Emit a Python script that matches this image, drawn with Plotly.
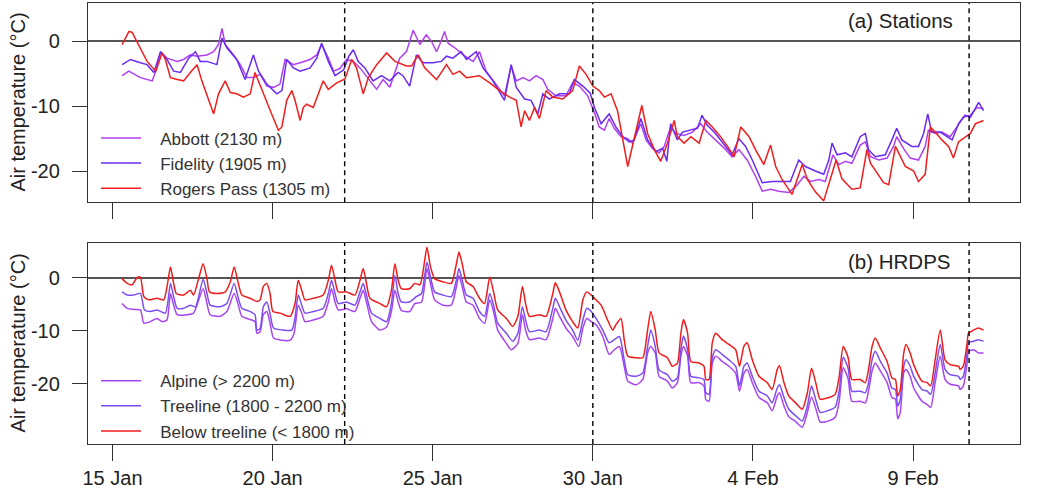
import pandas as pd
import plotly.graph_objects as go

# ---------------- data (day offset from 15 Jan 00:00, air temperature °C) -------------
BASE = "2019-01-15 00:00"

abbott_day = [0.30,0.51,0.87,1.24,1.39,1.50,1.70,2.02,2.22,2.43,2.64,2.95,3.16,3.31,3.42,3.52,3.78,3.99,4.20,4.40,4.61,4.82,5.03,5.23,5.39,5.65,5.86,6.17,6.38,6.53,6.74,6.90,7.10,7.31,7.52,7.73,8.04,8.25,8.45,8.66,8.97,9.18,9.39,9.60,9.80,9.96,10.12,10.22,10.37,10.48,10.69,10.95,11.26,11.46,11.67,11.98,12.24,12.45,12.61,12.82,13.02,13.23,13.44,13.59,13.85,14.16,14.37,14.58,14.84,15.05,15.20,15.36,15.51,15.67,15.88,16.09,16.24,16.50,16.66,16.86,17.07,17.23,17.43,17.59,17.85,18.11,18.37,18.57,18.83,19.15,19.35,19.56,19.82,20.08,20.29,20.55,20.81,21.12,21.39,21.59,21.80,22.06,22.26,22.50,22.68,22.89,23.09,23.35,23.51,23.67,23.93,24.19,24.39,24.49,24.70,24.91,25.17,25.38,25.48,25.69,25.90,26.16,26.37,26.57,26.79,26.99,27.20]
abbott_temp = [-5.3,-4.6,-5.6,-6.1,-4.1,-1.6,-2.6,-3.1,-2.8,-2.1,-2.3,-2.1,-1.6,-0.5,2.0,-0.5,-2.1,-3.6,-5.6,-5.6,-5.1,-6.9,-7.1,-6.6,-2.8,-3.6,-3.3,-2.8,-2.1,-0.5,-2.6,-4.6,-4.2,-2.8,-3.1,-4.1,-6.1,-7.4,-5.9,-7.1,-2.6,-1.6,1.7,-0.5,1.0,0.0,-1.6,-0.5,1.5,-0.3,-1.0,-2.1,-3.1,-1.6,-4.6,-6.6,-8.4,-3.8,-6.1,-5.6,-6.1,-5.3,-5.9,-7.4,-8.4,-8.4,-6.4,-6.9,-8.4,-11.0,-13.2,-13.7,-11.9,-13.4,-14.7,-15.0,-15.7,-12.7,-15.2,-16.5,-17.2,-16.2,-13.2,-14.2,-14.5,-14.0,-12.7,-14.0,-15.2,-16.7,-17.8,-16.7,-18.3,-20.8,-23.1,-22.8,-23.1,-23.3,-22.1,-20.8,-21.6,-21.3,-21.6,-17.5,-19.0,-18.5,-18.8,-16.0,-15.5,-17.8,-18.3,-18.0,-16.2,-14.7,-16.5,-18.0,-18.3,-16.2,-13.7,-14.2,-14.0,-14.7,-13.2,-11.7,-11.4,-10.2,-10.4]

fidelity_day = [0.30,0.56,0.87,1.08,1.29,1.50,1.70,1.91,2.12,2.38,2.59,2.74,2.95,3.26,3.42,3.57,3.88,4.14,4.40,4.56,4.82,5.13,5.29,5.44,5.65,5.86,6.17,6.38,6.53,6.74,6.95,7.22,7.38,7.52,7.67,7.88,8.14,8.40,8.66,8.92,9.07,9.28,9.49,9.70,10.01,10.27,10.43,10.63,10.89,11.05,11.36,11.57,11.88,12.24,12.45,12.61,12.87,13.07,13.28,13.44,13.64,13.96,14.27,14.42,14.69,14.92,15.05,15.15,15.26,15.51,15.72,15.93,16.14,16.29,16.50,16.71,16.97,17.18,17.31,17.43,17.64,17.80,18.06,18.27,18.41,18.57,18.83,19.15,19.35,19.56,19.77,19.98,20.29,20.60,20.91,21.17,21.43,21.64,21.95,22.21,22.37,22.47,22.63,22.89,23.09,23.35,23.51,23.61,23.82,24.13,24.34,24.49,24.65,24.96,25.17,25.33,25.46,25.58,25.85,26.06,26.22,26.42,26.63,26.79,26.95,27.05,27.20]
fidelity_temp = [-3.6,-2.8,-3.3,-3.6,-4.8,-1.6,-2.8,-4.6,-4.8,-2.6,-1.6,-3.1,-3.1,-3.6,0.5,-1.0,-2.8,-5.9,-2.1,-4.6,-6.6,-8.1,-7.6,-2.8,-4.1,-4.6,-4.1,-2.6,-0.3,-3.1,-5.3,-4.4,-2.3,-1.3,-3.1,-4.1,-6.1,-5.3,-6.1,-4.8,-5.3,-6.9,-2.1,-3.3,-3.3,-3.1,-2.3,-2.6,-1.6,-2.8,-1.6,-4.1,-6.1,-9.1,-3.6,-7.1,-8.9,-9.1,-11.2,-8.1,-8.9,-8.1,-8.1,-5.9,-6.9,-8.0,-10.2,-11.5,-12.7,-11.2,-13.2,-14.7,-15.5,-15.2,-11.9,-15.2,-17.0,-16.5,-18.5,-12.7,-15.2,-14.0,-13.7,-13.4,-11.4,-12.9,-14.2,-16.2,-17.5,-15.0,-16.2,-18.3,-21.8,-21.6,-21.6,-21.6,-18.3,-19.3,-20.0,-20.5,-18.3,-15.7,-17.5,-17.2,-17.8,-14.7,-14.2,-16.7,-17.8,-17.5,-15.2,-13.4,-15.2,-16.2,-16.2,-14.2,-11.2,-14.0,-14.0,-14.7,-15.2,-12.7,-11.4,-11.7,-10.4,-9.4,-10.7]

rogers_day = [0.30,0.51,0.61,0.87,1.08,1.35,1.55,1.65,1.81,2.02,2.22,2.43,2.64,2.79,3.00,3.16,3.31,3.52,3.68,3.88,4.09,4.30,4.45,4.71,4.97,5.18,5.29,5.44,5.60,5.70,5.86,5.96,6.06,6.27,6.48,6.58,6.74,7.00,7.26,7.47,7.62,7.83,7.99,8.25,8.56,8.82,9.18,9.34,9.55,9.75,10.12,10.43,10.63,10.84,11.05,11.46,11.78,12.09,12.40,12.61,12.76,12.87,13.02,13.18,13.33,13.54,13.75,14.06,14.37,14.58,14.79,15.00,15.20,15.36,15.57,15.77,16.09,16.29,16.53,16.71,16.92,17.12,17.33,17.54,17.64,17.85,18.06,18.32,18.53,18.73,18.99,19.25,19.41,19.62,19.88,20.08,20.34,20.55,20.71,20.91,21.22,21.54,21.70,21.95,22.21,22.40,22.60,22.78,23.09,23.35,23.56,23.67,23.87,24.08,24.24,24.45,24.55,24.76,25.02,25.17,25.38,25.54,25.69,25.90,26.11,26.26,26.42,26.63,26.79,26.95,27.11,27.20]
rogers_temp = [-0.5,1.5,1.4,-1.0,-3.1,-4.6,-1.8,-2.8,-5.6,-5.9,-6.1,-4.8,-3.6,-6.1,-9.1,-11.2,-8.1,-6.1,-7.9,-8.1,-8.6,-8.1,-4.8,-8.1,-11.2,-13.7,-13.2,-9.1,-7.6,-9.1,-12.2,-10.2,-9.7,-10.2,-7.6,-6.1,-7.4,-6.4,-5.8,-2.8,-4.1,-8.1,-5.6,-3.6,-1.8,-3.1,-3.8,-3.8,-2.1,-4.1,-5.9,-3.6,-5.1,-4.6,-5.6,-5.3,-6.4,-7.6,-8.6,-9.1,-13.2,-10.7,-12.2,-10.2,-11.9,-7.6,-8.6,-8.9,-7.6,-3.8,-5.1,-6.9,-7.6,-8.6,-8.1,-10.7,-19.3,-15.2,-9.9,-14.2,-16.7,-18.5,-15.7,-12.2,-14.7,-15.7,-14.7,-15.7,-12.2,-13.2,-14.7,-16.5,-17.8,-13.2,-14.7,-16.7,-19.0,-16.0,-19.3,-21.3,-23.6,-19.0,-21.3,-23.2,-24.6,-21.5,-18.3,-21.2,-22.8,-22.6,-16.7,-18.8,-20.3,-21.8,-22.1,-16.2,-17.2,-19.3,-20.0,-21.6,-20.5,-13.2,-14.0,-15.2,-16.2,-18.0,-15.5,-14.7,-14.2,-12.7,-12.4,-12.2]

below_day = [0.30,0.46,0.61,0.77,0.87,0.98,1.13,1.39,1.60,1.72,1.81,1.91,1.99,2.22,2.43,2.53,2.69,2.83,2.95,3.03,3.26,3.52,3.68,3.80,3.93,4.04,4.30,4.51,4.61,4.71,4.82,4.92,5.01,5.23,5.55,5.70,5.80,5.91,6.01,6.27,6.58,6.74,6.84,6.95,7.05,7.31,7.57,7.73,7.83,7.93,8.04,8.35,8.56,8.71,8.82,8.92,9.02,9.28,9.44,9.60,9.72,9.82,9.93,10.06,10.32,10.58,10.74,10.82,10.92,11.05,11.26,11.46,11.62,11.78,11.90,12.03,12.30,12.50,12.66,12.80,12.90,13.02,13.33,13.54,13.75,13.83,13.96,14.16,14.37,14.53,14.69,14.81,14.95,15.05,15.26,15.46,15.62,15.72,15.88,15.98,16.09,16.35,16.56,16.71,16.81,16.95,17.07,17.33,17.48,17.64,17.75,17.83,17.96,18.06,18.32,18.47,18.53,18.63,18.73,18.84,19.04,19.25,19.46,19.58,19.72,19.82,19.98,20.19,20.45,20.60,20.76,20.83,20.97,21.12,21.33,21.54,21.70,21.83,21.97,22.10,22.37,22.57,22.69,22.82,22.97,23.09,23.35,23.51,23.61,23.72,23.82,23.98,24.19,24.34,24.45,24.52,24.60,24.71,24.78,24.91,25.02,25.28,25.44,25.55,25.69,25.85,26.00,26.16,26.42,26.47,26.57,26.69,26.73,26.89,27.04,27.20]
below_temp = [-0.2,-1.1,-1.4,0.0,0.1,-3.6,-4.2,-3.9,-4.2,-1.1,2.0,-1.1,-3.0,-3.3,-2.4,-3.3,-0.2,2.6,-0.2,-2.7,-3.0,-2.7,-0.8,2.0,-1.1,-3.3,-3.9,-4.5,-4.2,-1.7,-1.1,-3.0,-6.4,-6.7,-7.3,-4.9,-0.5,-2.4,-4.2,-3.9,-3.3,-0.5,2.3,-0.5,-2.7,-2.7,-3.3,-0.5,1.7,-1.1,-3.9,-4.9,-5.5,-2.4,2.6,-0.5,-2.1,-2.1,-1.1,-1.4,2.0,5.7,2.0,-0.2,-0.8,-1.1,2.6,4.8,2.6,-0.8,-1.7,-3.9,-4.9,0.1,-2.7,-6.1,-7.7,-9.2,-7.3,-1.7,-4.9,-7.3,-7.0,-7.3,-3.0,-1.0,-2.7,-6.1,-8.3,-9.5,-4.2,-2.7,-3.3,-3.9,-5.2,-8.0,-9.9,-8.9,-7.7,-11.7,-14.8,-15.1,-15.1,-9.9,-6.4,-9.9,-14.2,-15.1,-16.7,-16.1,-10.5,-7.9,-10.5,-15.8,-16.1,-16.7,-19.2,-19.2,-12.3,-10.5,-11.7,-12.6,-13.6,-16.7,-12.9,-12.3,-15.5,-18.6,-19.8,-21.1,-17.3,-16.6,-19.8,-22.3,-23.6,-24.8,-21.7,-17.1,-20.0,-22.9,-22.6,-22.0,-18.8,-13.0,-15.0,-19.2,-19.2,-19.8,-17.3,-13.0,-11.4,-13.3,-15.8,-18.9,-19.2,-22.3,-21.1,-14.2,-12.6,-14.2,-16.4,-19.5,-19.8,-20.4,-15.5,-9.9,-15.5,-16.4,-16.7,-17.3,-16.7,-12.3,-10.5,-9.9,-9.5,-9.9]

treeline_day = [0.30,0.46,0.66,0.87,1.00,1.18,1.39,1.65,1.81,1.91,2.02,2.22,2.43,2.59,2.83,2.95,3.05,3.36,3.57,3.80,3.93,4.04,4.30,4.45,4.51,4.61,4.71,4.82,4.92,5.03,5.34,5.60,5.70,5.80,5.91,6.01,6.27,6.58,6.74,6.84,6.95,7.05,7.31,7.57,7.73,7.83,7.93,8.09,8.35,8.56,8.71,8.82,8.92,9.02,9.28,9.49,9.65,9.82,9.93,10.06,10.32,10.58,10.74,10.82,10.92,11.05,11.26,11.46,11.62,11.78,11.90,12.03,12.30,12.50,12.66,12.80,12.90,13.02,13.33,13.54,13.75,13.83,13.96,14.16,14.37,14.53,14.69,14.81,14.95,15.10,15.31,15.51,15.67,15.83,15.98,16.09,16.35,16.56,16.71,16.81,16.95,17.07,17.33,17.48,17.64,17.75,17.83,17.96,18.06,18.32,18.47,18.53,18.63,18.73,18.84,19.04,19.25,19.46,19.58,19.72,19.82,19.98,20.19,20.45,20.60,20.76,20.83,20.97,21.12,21.33,21.54,21.70,21.83,21.97,22.10,22.37,22.57,22.69,22.82,22.97,23.09,23.35,23.51,23.61,23.72,23.82,23.98,24.19,24.34,24.45,24.52,24.60,24.71,24.78,24.91,25.02,25.28,25.44,25.55,25.69,25.85,26.00,26.16,26.42,26.47,26.57,26.69,26.73,26.89,27.04,27.20]
treeline_temp = [-2.7,-3.3,-3.3,-3.0,-6.1,-6.4,-6.1,-6.7,-1.1,-3.6,-5.8,-5.8,-5.2,-5.5,-0.3,-3.0,-5.2,-5.5,-4.9,-1.1,-3.9,-5.8,-6.4,-7.0,-9.9,-9.6,-5.5,-4.6,-6.8,-9.5,-9.9,-9.9,-7.6,-3.3,-5.2,-6.7,-6.4,-5.8,-3.0,-0.5,-3.0,-4.9,-4.6,-5.2,-2.7,-1.1,-3.3,-6.7,-7.7,-8.3,-4.9,0.4,-3.0,-4.6,-4.6,-3.6,-3.0,2.9,0.1,-2.7,-3.3,-3.6,-0.5,1.7,-0.5,-3.3,-3.9,-6.4,-7.3,-3.0,-5.2,-8.6,-10.5,-12.0,-10.5,-5.5,-8.0,-10.2,-9.9,-10.2,-5.8,-3.9,-5.5,-8.0,-9.9,-11.8,-8.0,-5.8,-6.4,-7.7,-9.9,-12.3,-11.7,-11.1,-15.5,-18.3,-18.6,-18.0,-13.0,-9.9,-13.0,-17.4,-18.3,-19.5,-18.9,-13.6,-11.0,-13.6,-18.6,-18.9,-19.2,-21.7,-22.0,-15.1,-13.6,-14.5,-15.5,-16.7,-20.4,-16.7,-16.1,-18.6,-21.4,-22.3,-23.6,-20.8,-20.2,-22.6,-24.8,-26.0,-27.0,-24.2,-20.4,-23.2,-25.4,-25.0,-24.4,-21.5,-15.0,-17.0,-21.4,-21.4,-21.7,-19.8,-15.5,-13.9,-15.8,-18.0,-20.8,-21.1,-24.2,-23.0,-16.7,-15.5,-16.7,-18.6,-21.1,-21.4,-22.0,-18.0,-12.6,-17.3,-18.3,-18.6,-19.2,-18.6,-14.2,-12.3,-12.0,-11.7,-12.0]

alpine_day = [0.30,0.46,0.66,0.87,0.98,1.18,1.39,1.55,1.70,1.81,1.91,2.02,2.33,2.53,2.83,2.95,3.05,3.36,3.57,3.80,3.93,4.04,4.35,4.45,4.51,4.61,4.71,4.82,4.92,5.03,5.28,5.55,5.67,5.80,5.91,6.01,6.27,6.58,6.74,6.84,6.95,7.05,7.31,7.57,7.73,7.83,7.93,8.09,8.35,8.56,8.71,8.82,8.92,9.02,9.28,9.44,9.65,9.82,9.93,10.06,10.32,10.58,10.74,10.82,10.92,11.05,11.26,11.46,11.62,11.78,11.90,12.03,12.30,12.45,12.66,12.80,12.90,13.02,13.33,13.54,13.75,13.83,13.96,14.16,14.37,14.56,14.69,14.81,14.95,15.10,15.31,15.51,15.67,15.83,15.98,16.09,16.35,16.56,16.71,16.81,16.95,17.07,17.33,17.48,17.64,17.75,17.83,17.96,18.06,18.32,18.47,18.53,18.63,18.73,18.84,19.04,19.25,19.46,19.58,19.72,19.82,19.98,20.19,20.45,20.60,20.76,20.83,20.97,21.12,21.33,21.54,21.70,21.83,21.97,22.10,22.37,22.57,22.69,22.82,22.97,23.09,23.35,23.51,23.61,23.72,23.82,23.98,24.19,24.34,24.45,24.52,24.60,24.71,24.78,24.91,25.02,25.28,25.44,25.55,25.69,25.85,26.00,26.16,26.42,26.47,26.57,26.69,26.73,26.89,27.04,27.20]
alpine_temp = [-4.9,-5.8,-6.0,-6.1,-8.6,-8.3,-7.7,-8.3,-8.0,-3.0,-5.2,-7.0,-7.0,-6.7,-2.1,-4.9,-7.0,-7.3,-6.4,-3.0,-5.2,-7.3,-8.0,-8.3,-10.5,-10.2,-7.0,-6.4,-8.6,-11.4,-11.8,-11.8,-10.5,-5.2,-6.7,-8.3,-8.0,-7.3,-4.6,-2.1,-4.6,-6.1,-5.9,-6.4,-3.9,-2.4,-4.6,-8.3,-9.9,-9.3,-6.4,-2.4,-4.6,-6.2,-6.4,-4.9,-4.6,1.7,-1.1,-4.2,-5.2,-5.2,-1.7,0.4,-1.7,-4.6,-5.2,-7.7,-8.6,-4.2,-6.4,-9.9,-12.4,-13.6,-12.4,-7.0,-9.9,-11.7,-11.4,-11.7,-7.7,-5.8,-7.3,-9.5,-11.1,-13.0,-9.5,-7.7,-8.3,-8.9,-11.1,-14.5,-13.6,-13.0,-16.7,-19.5,-20.2,-19.2,-14.2,-13.0,-14.2,-18.6,-19.5,-20.8,-19.8,-14.8,-13.0,-14.8,-19.8,-19.8,-20.4,-23.0,-23.3,-16.1,-14.8,-15.8,-16.7,-18.0,-21.4,-18.0,-17.3,-19.8,-22.6,-23.6,-25.1,-22.3,-21.7,-24.2,-26.2,-27.1,-28.2,-25.4,-22.5,-24.8,-27.2,-27.0,-26.3,-23.5,-17.0,-19.0,-23.3,-23.3,-23.6,-21.4,-17.6,-16.1,-17.6,-19.8,-22.6,-22.9,-26.6,-25.4,-17.9,-17.3,-18.6,-20.8,-23.3,-23.9,-24.5,-19.8,-14.8,-19.2,-20.1,-20.4,-21.1,-20.4,-16.1,-13.9,-13.6,-14.2,-14.2]

marker_days = [7.25, 15.0, 26.75]          # dashed vertical lines
tick_days = [0, 5, 10, 15, 20, 25]
tick_text = ["15 Jan", "20 Jan", "25 Jan", "30 Jan", "4 Feb", "9 Feb"]

# ---------------- helpers -----------------
base = pd.Timestamp(BASE)
def to_time(days):
    return base + pd.to_timedelta(pd.Series(days, dtype=float), unit="D")

FONT = "Liberation Sans, Arial, sans-serif"
INK = "#222222"
FRAME = "#333333"
PAD = "\u00a0\u00a0\u00a0"   # gap between legend key and its text

fig = go.Figure()

station_series = [
    ("Abbott (2130 m)", abbott_day, abbott_temp, "#B040F0"),
    ("Fidelity (1905 m)", fidelity_day, fidelity_temp, "#6A2BF2"),
    ("Rogers Pass (1305 m)", rogers_day, rogers_temp, "#F01E1E"),
]
for name, d, t, c in station_series:
    fig.add_trace(go.Scatter(x=to_time(d), y=t, name=PAD + name, mode="lines",
                             line=dict(color=c, width=1.5), xaxis="x", yaxis="y",
                             legend="legend"))

model_series = [
    ("Alpine (> 2200 m)", alpine_day, alpine_temp, "#A845F0"),
    ("Treeline (1800 - 2200 m)", treeline_day, treeline_temp, "#7B4DF2"),
    ("Below treeline (< 1800 m)", below_day, below_temp, "#EE1C1C"),
]
for name, d, t, c in model_series:
    fig.add_trace(go.Scatter(x=to_time(d), y=t, name=PAD + name, mode="lines",
                             line=dict(color=c, width=1.5, shape="spline", smoothing=0.6),
                             xaxis="x2", yaxis="y2", legend="legend2"))

xr = [base + pd.Timedelta(days=-0.765), base + pd.Timedelta(days=28.34)]
tickvals = list(to_time(tick_days))

axis_common = dict(showline=True, mirror=True, linecolor=FRAME, linewidth=1.3,
                   ticks="outside", tickcolor=FRAME, tickwidth=1.3,
                   showgrid=False, tickfont=dict(family=FONT, size=20, color=INK))

fig.update_layout(
    width=1039, height=491,
    margin=dict(l=88, r=19, t=2, b=44),
    paper_bgcolor="white", plot_bgcolor="white",
    font=dict(family=FONT, color=INK),
    xaxis=dict(domain=[0, 1], anchor="y", range=xr, tickvals=tickvals,
               ticktext=tick_text, showticklabels=False, ticklen=16, zeroline=False, **axis_common),
    yaxis=dict(domain=[0.5483, 1], anchor="x", range=[-24.8, 5.9], tickvals=[0, -10, -20],
               ticktext=["0", "-10", "-20"], ticklen=15, ticklabelstandoff=8,
               zeroline=True, zerolinecolor="#555555", zerolinewidth=1.6, **axis_common),
    xaxis2=dict(domain=[0, 1], anchor="y2", range=xr, tickvals=tickvals,
                ticktext=tick_text, ticklen=16, zeroline=False, **axis_common),
    yaxis2=dict(domain=[0, 0.4562], anchor="x2", range=[-31.35, 6.54], tickvals=[0, -10, -20],
                ticktext=["0", "-10", "-20"], ticklen=15, ticklabelstandoff=8,
                zeroline=True, zerolinecolor="#555555", zerolinewidth=1.6, **axis_common),
    legend=dict(x=0.0086, y=0.7337, xanchor="left", yanchor="top", bgcolor="rgba(0,0,0,0)",
                font=dict(family=FONT, size=17, color="#333333"), itemwidth=40,
                tracegroupgap=0),
    legend2=dict(x=0.0086, y=0.1832, xanchor="left", yanchor="top", bgcolor="rgba(0,0,0,0)",
                 font=dict(family=FONT, size=17, color="#333333"), itemwidth=40,
                 tracegroupgap=0),
    showlegend=True,
)

for d in marker_days:
    t = base + pd.Timedelta(days=d)
    for xref, yref in (("x", "y domain"), ("x2", "y2 domain")):
        fig.add_shape(type="line", xref=xref, yref=yref, x0=t, x1=t, y0=0, y1=1,
                      line=dict(color="black", width=1.4, dash="5px,4px"), layer="above")

for yref, label, xr_, yr_ in (("y domain", "(a) Stations", 0.930, 0.91),
                              ("y2 domain", "(b) HRDPS", 0.928, 0.906)):
    fig.add_annotation(text=label, xref="paper", yref=yref, x=xr_, y=yr_,
                       xanchor="right", yanchor="middle", showarrow=False,
                       font=dict(family=FONT, size=20.5, color=INK))
    fig.add_annotation(text="Air temperature (°C)", xref="paper", yref=yref.split()[0] + " domain",
                       x=-0.0751, y=0.5, xanchor="center", yanchor="middle", textangle=-90,
                       showarrow=False, font=dict(family=FONT, size=20, color=INK))

fig.write_html("out.html")
